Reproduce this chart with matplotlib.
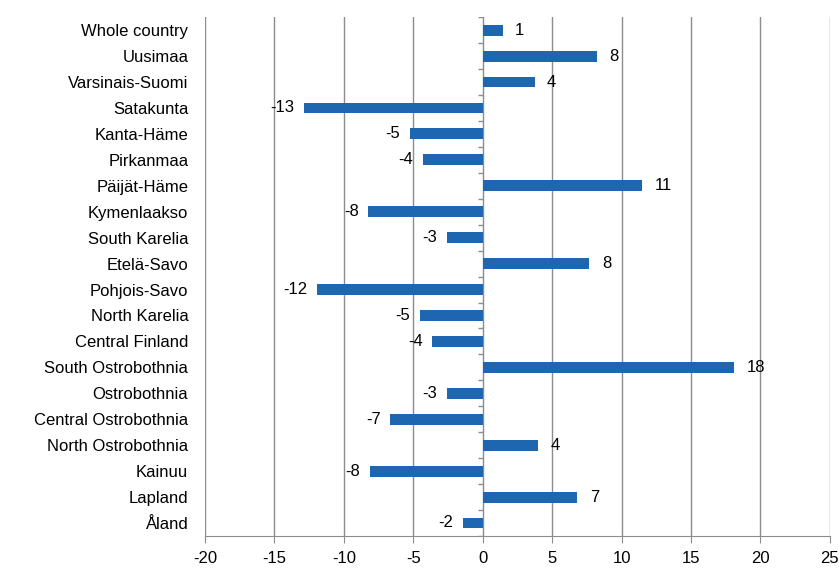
import numpy as np
import matplotlib.pyplot as plt

plt.rcParams['font.family'] = ['Liberation Sans', 'DejaVu Sans']

# Alueet ja arvot (luettu kuvasta)
regions = ['Whole country', 'Uusimaa', 'Varsinais-Suomi', 'Satakunta', 'Kanta-Häme',
           'Pirkanmaa', 'Päijät-Häme', 'Kymenlaakso', 'South Karelia', 'Etelä-Savo',
           'Pohjois-Savo', 'North Karelia', 'Central Finland', 'South Ostrobothnia',
           'Ostrobothnia', 'Central Ostrobothnia', 'North Ostrobothnia', 'Kainuu',
           'Lapland', 'Åland']
values = [1.44, 8.2, 3.74, -12.9, -5.25, -4.3, 11.47, -8.24, -2.56, 7.68,
          -11.9, -4.5, -3.62, 18.13, -2.56, -6.64, 3.96, -8.13, 6.83, -1.45]
value_labels = ['1', '8', '4', '-13', '-5', '-4', '11', '-8', '-3', '8',
                '-12', '-5', '-4', '18', '-3', '-7', '4', '-8', '7', '-2']
x_ticks = [-20, -15, -10, -5, 0, 5, 10, 15, 20, 25]

bar_color = '#1F66B0'
grid_color = '#8C8C8C'
fs = 12

fig = plt.figure(figsize=(8.39, 5.72), dpi=100)
ax = fig.add_axes([0.2443, 0.063, 0.7447, 0.907])

y = np.arange(len(regions))
ax.barh(y, values, height=0.42, color=bar_color, zorder=3)

# arvojen tekstit
for yi, v, lab in zip(y, values, value_labels):
    if v >= 0:
        ax.annotate(lab, (v, yi), xytext=(9, 0), textcoords='offset points',
                    ha='left', va='center', fontsize=fs, color='black')
    else:
        ax.annotate(lab, (v, yi), xytext=(-7, 0), textcoords='offset points',
                    ha='right', va='center', fontsize=fs, color='black')

ax.set_xlim(-20, 25)
ax.set_ylim(len(regions) - 0.5, -0.5)
ax.set_xticks(x_ticks)
ax.set_xticklabels([str(t) for t in x_ticks])
ax.set_yticks(y)
ax.set_yticklabels(regions)

# pystysuorat ruudukon viivat
for t in x_ticks:
    ax.axvline(t, color=grid_color, lw=1, zorder=1)

# pystyakselin pienet merkit nollakohdassa
ax.hlines(np.arange(len(regions) + 1) - 0.5, -0.35, 0, color=grid_color, lw=1, zorder=2)

for s in ['top', 'right', 'left']:
    ax.spines[s].set_visible(False)
ax.spines['bottom'].set_color(grid_color)
ax.tick_params(axis='y', length=0, pad=12, labelsize=fs)
ax.tick_params(axis='x', length=5, color=grid_color, pad=6, labelsize=fs)

fig.savefig('out.png', dpi=100)
